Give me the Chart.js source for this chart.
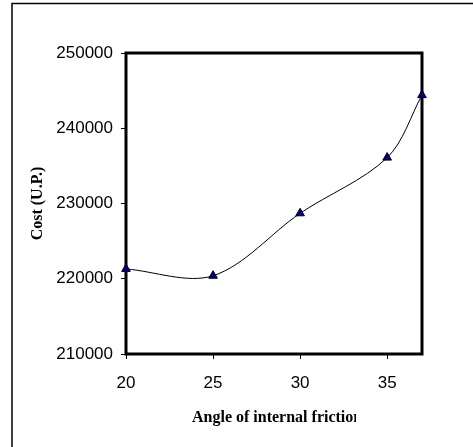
<!DOCTYPE html>
<html>
<head>
<meta charset="utf-8">
<script src="https://cdn.jsdelivr.net/npm/chart.js@4/dist/chart.umd.min.js"></script>
<style>
  body { margin: 0; background: #fff; }
  #wrap { width: 473px; height: 447px; }
</style>
</head>
<body>
<div id="wrap"><canvas id="costChart" width="473" height="447"></canvas></div>
<script>
// Data
const angles = [20, 25, 30, 35, 37];
const costs = [221300, 220400, 228700, 236100, 244400];
const xTicks = [20, 25, 30, 35];
const yTicks = [210000, 220000, 230000, 240000, 250000];

const xTitle = 'Angle of internal friction';
const yTitle = 'Cost (U.P.)';

// White page + outer frame (only left/top edges fall inside the picture)
const framePlugin = {
  id: 'frame',
  beforeDraw(chart) {
    const ctx = chart.ctx;
    ctx.save();
    ctx.fillStyle = '#fff';
    ctx.fillRect(0, 0, chart.width, chart.height);
    ctx.strokeStyle = '#000';
    ctx.lineWidth = 1.5;
    ctx.strokeRect(12, 3.5, 470, 460);
    ctx.restore();
  },
  beforeDatasetsDraw(chart) {
    // thick box round the plot area
    const a = chart.chartArea;
    const ctx = chart.ctx;
    ctx.save();
    ctx.strokeStyle = '#000';
    ctx.lineWidth = 3;
    ctx.strokeRect(a.left, a.top, a.right - a.left, a.bottom - a.top);
    ctx.restore();
  },
  afterDraw(chart) {
    // x title, cut off on the right like the original text box
    const ctx = chart.ctx;
    ctx.save();
    ctx.beginPath();
    ctx.rect(0, 0, 356, chart.height);
    ctx.clip();
    ctx.fillStyle = '#000';
    ctx.font = 'bold 16px "Liberation Serif", "Times New Roman", serif';
    ctx.textAlign = 'left';
    ctx.textBaseline = 'middle';
    ctx.fillText(xTitle, 192, 418);
    ctx.restore();
  }
};

const ctx = document.getElementById('costChart').getContext('2d');
new Chart(ctx, {
  type: 'line',
  data: {
    datasets: [{
      data: angles.map((a, i) => ({ x: a, y: costs[i] })),
      borderColor: '#000',
      borderWidth: 1,
      tension: 0.33,
      fill: false,
      clip: false,
      pointStyle: 'triangle',
      pointRadius: 5,
      pointBackgroundColor: '#000080',
      pointBorderColor: '#000',
      pointBorderWidth: 1,
    }],
  },
  options: {
    responsive: false,
    animation: false,
    events: [],
    layout: { padding: { top: 53, right: 51, left: 0, bottom: 0 } },
    plugins: {
      legend: { display: false },
      tooltip: { enabled: false },
    },
    scales: {
      x: {
        type: 'linear',
        min: 20,
        max: 37,
        afterFit: (s) => { s.height = 93; },
        afterBuildTicks: (s) => { s.ticks = xTicks.map(v => ({ value: v })); },
        grid: { drawOnChartArea: false, tickLength: 5, color: '#000' },
        border: { display: false },
        ticks: {
          padding: 14,
          color: '#000',
          maxRotation: 0,
          font: { family: '"Liberation Sans", Arial, sans-serif', size: 17 },
        },
      },
      y: {
        min: 210000,
        max: 250000,
        afterFit: (s) => { s.width = 126; },
        afterBuildTicks: (s) => { s.ticks = yTicks.map(v => ({ value: v })); },
        grid: { drawOnChartArea: false, tickLength: 5, color: '#000' },
        border: { display: false },
        ticks: {
          padding: 8,
          color: '#000',
          callback: (v) => String(v),
          font: { family: '"Liberation Sans", Arial, sans-serif', size: 17 },
        },
        title: {
          display: true,
          text: yTitle,
          color: '#000',
          padding: { top: 28, bottom: 0 },
          font: { family: '"Liberation Serif", "Times New Roman", serif', size: 16, weight: 'bold' },
        },
      },
    },
  },
  plugins: [framePlugin],
});
</script>
</body>
</html>
